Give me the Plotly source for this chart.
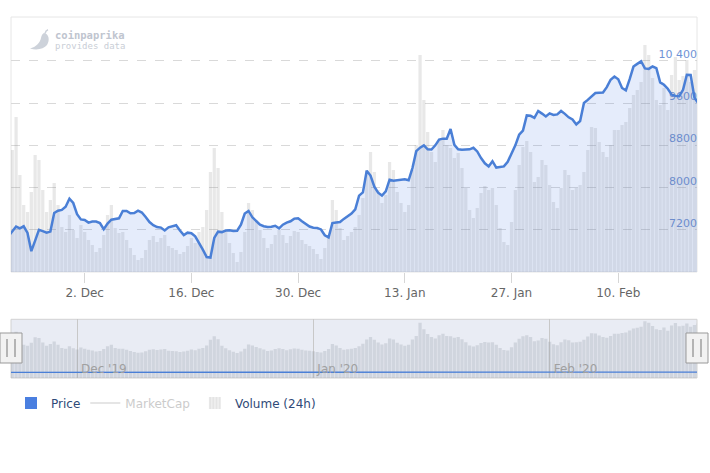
import plotly.graph_objects as go
import pandas as pd

# ---------------- data ----------------
START = "2019-11-22 00:00"
STEP = "12h"

PRICE = [
    7080, 7180, 7265, 7230, 7270, 7145, 6800, 7000, 7205, 7180,
    7150, 7170, 7520, 7565, 7580, 7640, 7790, 7710, 7500, 7400,
    7390, 7340, 7360, 7360, 7330, 7215, 7320, 7395, 7410, 7420,
    7560, 7560, 7515, 7520, 7565, 7530, 7445, 7350, 7290, 7255,
    7245, 7190, 7250, 7270, 7290, 7190, 7105, 7150, 7140, 7080,
    6960, 6830, 6690, 6680, 7050, 7168, 7160, 7190, 7195, 7183,
    7186, 7300, 7510, 7560, 7440, 7365, 7300, 7272, 7255, 7260,
    7280, 7232, 7300, 7338, 7365, 7415, 7420, 7365, 7310, 7265,
    7244, 7240, 7210, 7100, 7060, 7330, 7340, 7350, 7410, 7454,
    7510, 7590, 7850, 7910, 8320, 8230, 8020, 7905, 7850, 7930,
    8150, 8130, 8140, 8155, 8158, 8140, 8370, 8690, 8756, 8800,
    8725, 8720, 8800, 8910, 8927, 8927, 9110, 8810, 8725, 8715,
    8724, 8724, 8755, 8685, 8560, 8460, 8400, 8500, 8380, 8390,
    8402, 8490, 8640, 8800, 9000, 9080, 9365, 9358, 9320, 9450,
    9400, 9345, 9405, 9375, 9385, 9450, 9395, 9330, 9290, 9195,
    9260, 9600, 9660, 9735, 9790, 9795, 9800, 9900, 10040, 10100,
    10050, 9885, 9840, 10050, 10290, 10340, 10390, 10255, 10245, 10290,
    10260, 9990, 9945, 9870, 9760, 9735, 9730, 9850, 10135, 10130,
    9700, 9600,
]

VOLUME_BN = [
    28.4, 34.4, 41.0, 29.4, 23.4, 22.0, 26.0, 33.4, 32.4, 26.4,
    22.0, 24.4, 27.8, 23.4, 19.0, 18.0, 21.4, 18.4, 16.8, 19.4,
    18.0, 16.4, 15.4, 14.0, 14.8, 17.4, 21.4, 23.4, 18.8, 17.8,
    18.0, 16.4, 14.8, 13.4, 12.4, 12.8, 14.4, 16.4, 17.2, 16.0,
    16.8, 17.4, 15.2, 14.8, 14.4, 13.6, 14.0, 15.2, 16.8, 15.8,
    18.0, 19.0, 22.4, 30.0, 34.8, 30.8, 22.0, 18.4, 15.8, 13.8,
    12.0, 14.0, 18.0, 23.8, 22.4, 20.4, 18.4, 16.8, 14.8, 15.6,
    17.4, 18.4, 17.4, 15.8, 17.2, 18.2, 18.0, 16.4, 15.6, 15.2,
    14.6, 13.6, 12.6, 14.8, 17.4, 24.4, 22.4, 18.8, 16.4, 17.2,
    18.0, 19.0, 21.4, 24.8, 30.4, 34.0, 30.0, 26.4, 23.8, 25.4,
    32.0, 30.4, 26.0, 23.8, 22.0, 23.4, 30.4, 35.4, 53.4, 44.4,
    38.0, 34.0, 32.0, 36.4, 38.4, 35.4, 34.8, 32.8, 33.8, 30.8,
    26.8, 22.4, 20.8, 22.8, 25.8, 27.2, 26.4, 26.8, 23.4, 18.8,
    16.0, 15.4, 20.0, 26.4, 31.4, 35.0, 36.2, 34.0, 28.0, 29.0,
    32.4, 31.4, 27.4, 24.0, 22.8, 26.8, 30.4, 29.4, 26.4, 26.8,
    27.4, 30.0, 34.4, 39.0, 38.8, 36.0, 34.0, 33.0, 35.4, 38.4,
    38.4, 39.4, 40.0, 42.8, 45.4, 46.4, 48.0, 55.4, 53.4, 48.8,
    44.4, 43.4, 46.8, 42.4, 49.4, 53.0, 48.4, 49.2, 52.4, 48.0,
    50.4, 52.4,
]

X_RANGE = ["2019-11-22 08:00", "2020-02-20 08:00"]
PRICE_RANGE = [6406, 11226]
VOLUME_RANGE = [10, 61]
NAV_FLOOR = -22
NAV_VOL_RANGE = [NAV_FLOOR, 58]
NAV_PRICE_RANGE = [-100000, 1000000]

PRICE_TICKS = [7200, 8000, 8800, 9600, 10400]
PRICE_TICK_TEXT = ["7200", "8000", "8800", "9600", "10 400"]
DATE_TICKS = ["2019-12-02", "2019-12-16", "2019-12-30", "2020-01-13", "2020-01-27", "2020-02-10"]
DATE_TICK_TEXT = ["2. Dec", "16. Dec", "30. Dec", "13. Jan", "27. Jan", "10. Feb"]
NAV_TICKS = ["2019-12-01", "2020-01-01", "2020-02-01"]
NAV_TICK_TEXT = ["Dec '19", "Jan '20", "Feb '20"]

assert len(PRICE) == len(VOLUME_BN)
dates = pd.date_range(START, periods=len(PRICE), freq=STEP)

# ---------------- geometry helpers ----------------
W, H = 710, 473
ML, MR, MT, MB = 11, 13, 17, 95
PW, PH = W - ML - MR, H - MT - MB


def px(x):
    return (x - ML) / PW


def py(y):
    return (H - MB - y) / PH


def ppath(cmds):
    out = []
    for c, pts in cmds:
        out.append(c + " " + " ".join(f"{px(a):.5f},{py(b):.5f}" for a, b in pts))
    return " ".join(out)


MAIN_DOM = [py(272), 1.0]
NAV_DOM = [0.0, py(319.3)]

FONT = "DejaVu Sans"
BLUE = "#4a7fd6"

fig = go.Figure()

# main volume columns
fig.add_trace(go.Bar(
    x=dates, y=VOLUME_BN, xaxis="x", yaxis="y",
    marker=dict(color="rgba(130,130,130,0.18)", line=dict(width=0)),
    showlegend=False, hoverinfo="skip",
))
# main price area
fig.add_trace(go.Scatter(
    x=dates, y=PRICE, xaxis="x", yaxis="y2", mode="lines",
    line=dict(color=BLUE, width=2.5, shape="linear"),
    fill="tozeroy", fillcolor="rgba(80,125,225,0.15)",
    showlegend=False,
))
# navigator volume
fig.add_trace(go.Bar(
    x=dates, y=[v - NAV_FLOOR for v in VOLUME_BN], base=NAV_FLOOR,
    xaxis="x2", yaxis="y3",
    marker=dict(color="rgba(140,145,160,0.26)", line=dict(width=0)),
    showlegend=False, hoverinfo="skip",
))
# navigator price line
fig.add_trace(go.Scatter(
    x=dates, y=PRICE, xaxis="x2", yaxis="y4", mode="lines",
    line=dict(color=BLUE, width=1.3), showlegend=False, hoverinfo="skip",
))
# legend entries
fig.add_trace(go.Bar(
    x=[None], y=[None], xaxis="x2", yaxis="y3", name="Price",
    marker=dict(color="#4a7fe0", line=dict(width=0)),
))
fig.add_trace(go.Scatter(
    x=[None], y=[None], xaxis="x2", yaxis="y3", mode="lines",
    name="<span style='color:#999999'>MarketCap</span>",
    line=dict(color="#999999", width=1), visible="legendonly",
))
fig.add_trace(go.Bar(
    x=[None], y=[None], xaxis="x2", yaxis="y3", name="Volume (24h)",
    marker=dict(color="#eeeeee", line=dict(width=0),
                pattern=dict(shape="|", fgcolor="#d6d6d6", size=4, solidity=0.4)),
))

shapes = [
    # navigator background / mask
    dict(type="rect", xref="paper", yref="paper", x0=0, x1=1, y0=NAV_DOM[0], y1=NAV_DOM[1],
         fillcolor="#e9ecf4", line=dict(color="#d2d2d2", width=1), layer="below"),
    # main plot frame
    dict(type="rect", xref="paper", yref="paper", x0=0, x1=1, y0=MAIN_DOM[0], y1=1,
         fillcolor="rgba(0,0,0,0)", line=dict(color="#e6e6e6", width=1), layer="below"),
]
# navigator handles
for cx in (11, 697):
    shapes.append(dict(type="rect", xref="paper", yref="paper",
                       x0=px(cx - 11), x1=px(cx + 11), y0=py(363), y1=py(333),
                       fillcolor="#f2f2f2", line=dict(color="#999999", width=1), layer="above"))
    for dx in (-4, 4):
        shapes.append(dict(type="line", xref="paper", yref="paper",
                           x0=px(cx + dx), x1=px(cx + dx), y0=py(357), y1=py(339),
                           line=dict(color="#777777", width=1), layer="above"))
# logo pepper
shapes.append(dict(type="path", xref="paper", yref="paper", layer="above",
                   path=ppath([("M", [(44, 33)]),
                               ("C", [(49, 34), (50, 40), (47, 45)]),
                               ("C", [(44, 49), (37, 50.5), (30, 48.5)]),
                               ("C", [(36, 47), (40, 43), (41, 38)]),
                               ("C", [(41.5, 35.5), (42.5, 33.5), (44, 33)]),
                               ("Z", [])]).replace("Z ", "Z"),
                   fillcolor="#cdd2da", line=dict(width=0)))
shapes.append(dict(type="path", xref="paper", yref="paper", layer="above",
                   path=ppath([("M", [(45, 33.5)]), ("C", [(45.5, 31.5), (46.5, 30.3), (48, 29.8)])]),
                   line=dict(color="#cdd2da", width=1.5)))

annotations = [
    dict(xref="paper", yref="paper", x=px(53), y=py(35), xanchor="left", yanchor="middle",
         text="<b>coinpaprika</b>", showarrow=False,
         font=dict(family="DejaVu Sans Mono", size=10.5, color="#bfc5cf")),
    dict(xref="paper", yref="paper", x=px(53), y=py(45.7), xanchor="left", yanchor="middle",
         text="provides data", showarrow=False,
         font=dict(family="DejaVu Sans Mono", size=9, color="#c9ced6")),
]

fig.update_layout(
    width=W, height=H, autosize=False,
    margin=dict(l=ML, r=MR, t=MT, b=MB, pad=0),
    paper_bgcolor="white", plot_bgcolor="rgba(0,0,0,0)",
    font=dict(family=FONT, size=12, color="#666666"),
    barmode="overlay", bargap=0.15,
    hovermode=False,
    shapes=shapes, annotations=annotations,
    xaxis=dict(domain=[0, 1], anchor="y", type="date", range=X_RANGE,
               tickvals=DATE_TICKS, ticktext=DATE_TICK_TEXT,
               ticks="outside", ticklen=10, tickcolor="#d6d6d6", tickwidth=1,
               tickfont=dict(family=FONT, size=12, color="#666666"),
               showgrid=False, showline=False, zeroline=False, fixedrange=True),
    yaxis=dict(domain=MAIN_DOM, anchor="x", range=VOLUME_RANGE, visible=False,
               showgrid=False, zeroline=False, fixedrange=True),
    yaxis2=dict(overlaying="y", anchor="x", side="right", range=PRICE_RANGE,
                tickvals=PRICE_TICKS, ticktext=PRICE_TICK_TEXT,
                ticklabelposition="inside", ticklabelshift=-7, ticklabelstandoff=-3,
                ticks="",
                tickfont=dict(family=FONT, size=11, color="#6f93d6"),
                showgrid=True, gridcolor="#d9d9d9", griddash="dash", gridwidth=1,
                showline=False, zeroline=False, layer="below traces", fixedrange=True),
    xaxis2=dict(domain=[0, 1], anchor="y3", type="date", range=X_RANGE,
                tickvals=NAV_TICKS, ticktext=NAV_TICK_TEXT,
                ticklabelposition="inside right", ticklabelshift=4, ticklabelstandoff=-3,
                ticks="",
                tickfont=dict(family=FONT, size=12, color="#a0a0a0"),
                showgrid=True, gridcolor="#c8c8c8", gridwidth=1,
                showline=False, zeroline=False, fixedrange=True),
    yaxis3=dict(domain=NAV_DOM, anchor="x2", range=NAV_VOL_RANGE, visible=False,
                showgrid=False, zeroline=False, fixedrange=True),
    yaxis4=dict(overlaying="y3", anchor="x2", range=NAV_PRICE_RANGE, visible=False,
                showgrid=False, zeroline=False, fixedrange=True),
    legend=dict(orientation="h", x=0, xanchor="left", y=py(403), yanchor="middle",
                font=dict(family=FONT, size=12, color="#2f4a78"),
                bgcolor="rgba(0,0,0,0)", itemclick=False, itemdoubleclick=False),
)

fig.write_html("out.html")
